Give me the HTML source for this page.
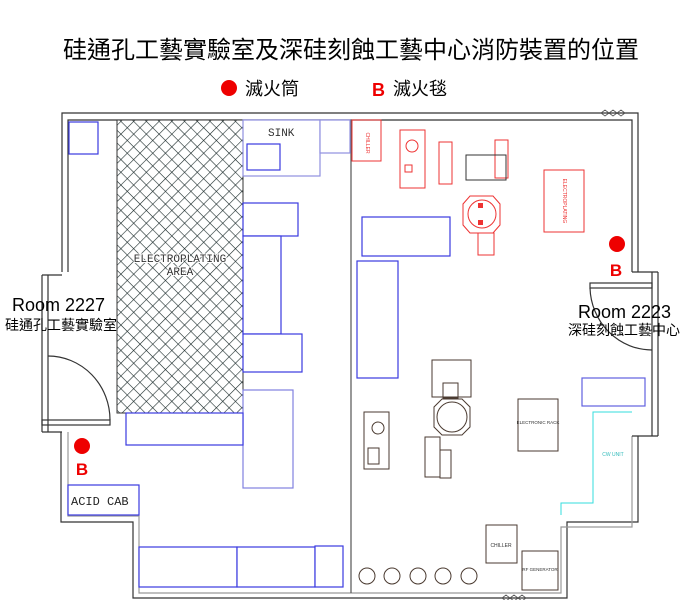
<!DOCTYPE html>
<html><head><meta charset="utf-8"><style>
html,body{margin:0;padding:0;background:#fff;width:700px;height:600px;overflow:hidden}
svg{display:block}
.t{font-family:"Liberation Sans","Noto Sans CJK TC",sans-serif}
</style></head><body>
<svg width="700" height="600" viewBox="0 0 700 600" xmlns="http://www.w3.org/2000/svg">
<defs>
<pattern id="h" width="9" height="9" patternUnits="userSpaceOnUse" patternTransform="rotate(45)">
<rect width="9" height="9" fill="#fff"/>
<line x1="0" y1="0" x2="0" y2="9" stroke="#1a2a2a" stroke-width="1.2"/>
<line x1="0" y1="0" x2="9" y2="0" stroke="#1a2a2a" stroke-width="1.2"/>
</pattern>
</defs>
<text x="351" y="58" text-anchor="middle" class="t" font-size="24" fill="#000">硅通孔工藝實驗室及深硅刻蝕工藝中心消防裝置的位置</text>
<circle cx="229" cy="88" r="8" fill="#e00"/>
<text x="245" y="95" class="t" font-size="18">滅火筒</text>
<text x="372" y="96" class="t" font-size="18" font-weight="bold" fill="#e00">B</text>
<text x="393" y="95" class="t" font-size="18">滅火毯</text>

<g fill="none" stroke="#333" stroke-width="1.2">
<polyline points="62,272 62,113 638,113 638,272"/>
<polyline points="68,272 68,120 632,120 632,272"/>
<polyline points="638,436 638,522 567,522 567,598 133,598 133,522 61,522 61,432"/>
<polyline points="632,436 632,527 561,527 561,593 139,593 139,516 68,516 68,432" stroke="#999"/>
<line x1="42" y1="275" x2="42" y2="432"/><line x1="48" y1="275" x2="48" y2="432"/>
<line x1="42" y1="275" x2="62" y2="275"/><line x1="42" y1="432" x2="62" y2="432"/>
<rect x="42" y="420" width="68" height="5"/>
<path d="M48,356 A62,64 0 0 1 110,420"/>
<line x1="652" y1="272" x2="652" y2="436"/><line x1="658" y1="272" x2="658" y2="436"/>
<line x1="632" y1="272" x2="658" y2="272"/><line x1="632" y1="436" x2="658" y2="436"/>
<rect x="590" y="283" width="62" height="5"/>
<path d="M590,288 A62,64 0 0 0 652,350"/>
<line x1="351" y1="120" x2="351" y2="593" stroke="#555"/>
</g>
<g stroke="#555" stroke-width="0.8" fill="none">
<path d="M601,113 l4,-3 l4,3 l4,-3 l4,3 l4,-3 l4,3 M601,113 l4,3 l4,-3 l4,3 l4,-3 l4,3 l4,-3"/>
<path d="M502,598 l4,-3 l4,3 l4,-3 l4,3 l4,-3 l4,3 M502,598 l4,3 l4,-3 l4,3 l4,-3 l4,3 l4,-3"/>
</g>

<rect x="117" y="120" width="126" height="293" fill="url(#h)" stroke="#333" stroke-width="1"/>
<text x="180" y="262" text-anchor="middle" font-family="Liberation Mono,monospace" font-size="11" fill="#333" stroke="#fff" stroke-width="2" paint-order="stroke">ELECTROPLATING</text>
<text x="180" y="275" text-anchor="middle" font-family="Liberation Mono,monospace" font-size="11" fill="#333" stroke="#fff" stroke-width="2" paint-order="stroke">AREA</text>

<g fill="#fff" stroke="#3a3ae0" stroke-width="1.2">
<rect x="69" y="122" width="29" height="32"/>
<rect x="243" y="120" width="77" height="56" stroke="#9090e0"/>
<rect x="247" y="144" width="33" height="26"/>
<rect x="320" y="120" width="30" height="33" stroke="#9090e0"/>
<rect x="243" y="203" width="55" height="33"/>
<rect x="243" y="236" width="38" height="98"/>
<rect x="243" y="334" width="59" height="38"/>
<rect x="243" y="390" width="50" height="98" stroke="#8080e0"/>
<rect x="126" y="413" width="117" height="32"/>
<rect x="68" y="485" width="71" height="30"/>
<rect x="139" y="547" width="98" height="40"/>
<rect x="237" y="547" width="78" height="40"/>
<rect x="315" y="546" width="28" height="41"/>
<rect x="362" y="217" width="88" height="39"/>
<rect x="357" y="261" width="41" height="117"/>
<rect x="582" y="378" width="63" height="28" stroke="#6060e0"/>
</g>
<text x="268" y="136" font-family="Liberation Mono,monospace" font-size="11" fill="#333">SINK</text>
<text x="71" y="505" font-family="Liberation Mono,monospace" font-size="12" fill="#222">ACID CAB</text>

<g fill="none" stroke="#e33" stroke-width="1">
<rect x="352" y="120" width="29" height="41"/>
<rect x="400" y="130" width="25" height="58"/>
<circle cx="412" cy="146" r="6"/><rect x="405" y="165" width="7" height="7"/>
<rect x="439" y="142" width="13" height="42"/>
<rect x="495" y="140" width="13" height="38"/>
<rect x="466" y="155" width="40" height="25" stroke="#333"/>
<polygon points="470,196 493,196 500,204 500,225 493,233 470,233 463,225 463,204"/>
<circle cx="482" cy="214" r="14"/>
<rect x="478" y="233" width="16" height="22"/>
<rect x="544" y="170" width="40" height="62"/>
</g>
<rect x="478" y="203" width="5" height="5" fill="#e33"/><rect x="478" y="220" width="5" height="5" fill="#e33"/>
<text x="366" y="143" font-size="5" fill="#e33" class="t" transform="rotate(90 366 143)" text-anchor="middle">CHILLER</text>
<text x="563" y="201" font-size="5" fill="#e33" class="t" transform="rotate(90 563 201)" text-anchor="middle">ELECTROPLATING</text>

<g fill="none" stroke="#4a3a30" stroke-width="1">
<rect x="364" y="412" width="25" height="57"/>
<circle cx="378" cy="428" r="6"/><rect x="368" y="448" width="11" height="16"/>
<rect x="432" y="360" width="39" height="37"/>
<rect x="443" y="383" width="15" height="15"/>
<polygon points="442,399 462,399 470,407 470,427 462,435 442,435 434,427 434,407"/>
<circle cx="452" cy="417" r="15"/>
<rect x="425" y="437" width="15" height="40"/>
<rect x="440" y="450" width="11" height="28"/>
<rect x="518" y="399" width="40" height="52"/>
<rect x="486" y="525" width="31" height="38"/>
<rect x="522" y="551" width="36" height="39"/>
<circle cx="367" cy="576" r="8"/><circle cx="392" cy="576" r="8"/><circle cx="418" cy="576" r="8"/><circle cx="443" cy="576" r="8"/><circle cx="469" cy="576" r="8"/>
</g>
<text x="538" y="424" font-size="4.5" text-anchor="middle" class="t" fill="#333">ELECTRONIC RACK</text>
<text x="501" y="547" font-size="5" text-anchor="middle" class="t" fill="#333">CHILLER</text>
<text x="540" y="571" font-size="4.5" text-anchor="middle" class="t" fill="#333">RF GENERATOR</text>
<polyline points="561,515 561,503 593,503 593,412 632,412" fill="none" stroke="#3dd" stroke-width="1"/>
<text x="613" y="456" font-size="5" class="t" fill="#3bb" text-anchor="middle">CW UNIT</text>

<circle cx="617" cy="244" r="8" fill="#e00"/>
<text x="616" y="276" class="t" font-size="17" font-weight="bold" fill="#e00" text-anchor="middle">B</text>
<circle cx="82" cy="446" r="8" fill="#e00"/>
<text x="82" y="475" class="t" font-size="17" font-weight="bold" fill="#e00" text-anchor="middle">B</text>

<text x="12" y="311" class="t" font-size="18" fill="#000">Room 2227</text>
<text x="5" y="330" class="t" font-size="14" fill="#000">硅通孔工藝實驗室</text>
<text x="578" y="318" class="t" font-size="18" fill="#000">Room 2223</text>
<text x="568" y="335" class="t" font-size="14" fill="#000">深硅刻蝕工藝中心</text>
</svg>
</body></html>
